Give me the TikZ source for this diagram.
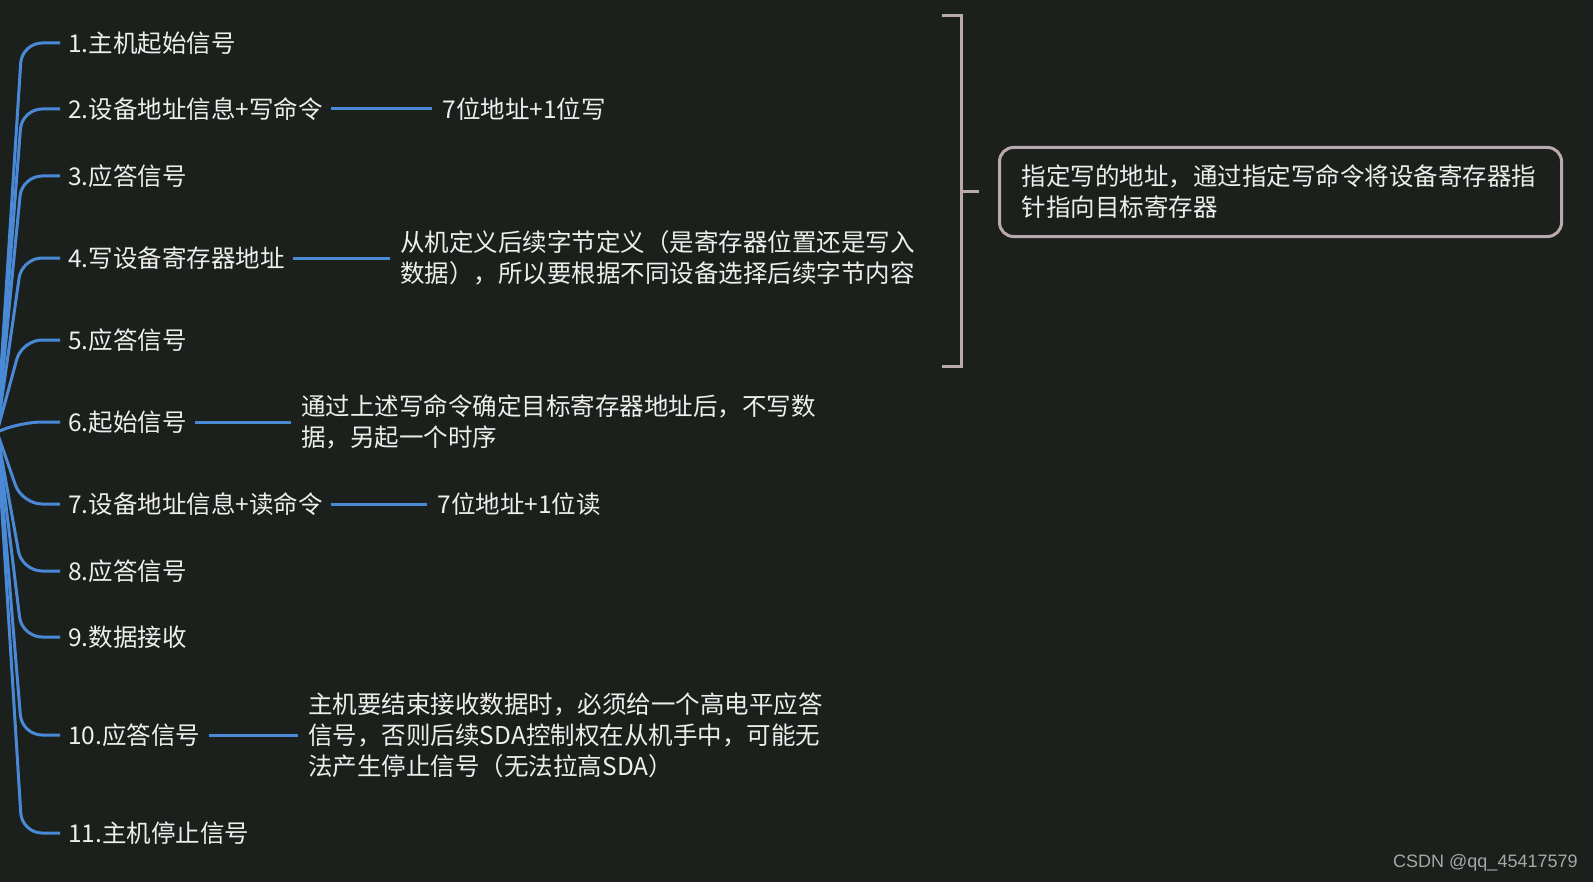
\documentclass[tikz,border=0pt]{standalone}
\usepackage{fontspec}
\setmainfont{Noto Sans CJK SC}
\newfontfamily\markfont{Liberation Sans}
\usepackage{tikz}
\usepackage{xcolor}
\usetikzlibrary{arrows.meta, calc, positioning}

\definecolor{bgcol}{RGB}{27,32,29}
\definecolor{branchcol}{RGB}{74,137,214}
\definecolor{framecol}{RGB}{185,170,173}
\definecolor{textcol}{RGB}{238,238,236}
\definecolor{markcol}{RGB}{166,168,166}

\tikzset{
  item/.style={anchor=west, inner xsep=4pt, inner ysep=0pt, text=textcol,
    font=\fontsize{12.25}{15.5}\selectfont},
  desc/.style={anchor=west, inner xsep=5pt, inner ysep=0pt, text=textcol, align=left,
    font=\fontsize{12.25}{15.5}\selectfont},
  branch/.style={draw=branchcol, line width=1.5pt, rounded corners=10pt},
  twig/.style={draw=branchcol, line width=1.5pt},
  bracket/.style={draw=framecol, line width=1.5pt},
  notebox/.style={draw=framecol, line width=1.5pt, rounded corners=7pt, fill=bgcol,
    text=textcol, align=left, text width=259pt, inner xsep=11pt, minimum height=44.5pt,
    font=\fontsize{12.25}{15.5}\selectfont}
}

\begin{document}
\begin{tikzpicture}[x=0.5pt, y=-0.5pt]
  \useasboundingbox[fill=bgcol] (0,0) rectangle (1593,882);
  \coordinate (root) at (-3,432);

  % main steps
  \foreach \n/\y/\t in {1/43/{1.主机起始信号}, 2/109/{2.设备地址信息+写命令}, 3/176/{3.应答信号},
      4/258/{4.写设备寄存器地址}, 5/340/{5.应答信号}, 6/422/{6.起始信号},
      7/504/{7.设备地址信息+读命令}, 8/571/{8.应答信号}, 9/637/{9.数据接收},
      10/735/{10.应答信号}, 11/833/{11.主机停止信号}}{
    \node[item] (item\n) at (60,\y) {\t};
    \draw[branch] (root) -- (22,\y) -- (item\n.west);
  }

  % details
  \node[desc] (desc2) at (432,109) {7位地址+1位写};
  \node[desc] (desc4) at (390,258) {从机定义后续字节定义（是寄存器位置还是写入\\数据），所以要根据不同设备选择后续字节内容};
  \node[desc] (desc6) at (291,422) {通过上述写命令确定目标寄存器地址后，不写数\\据，另起一个时序};
  \node[desc] (desc7) at (427,504) {7位地址+1位读};
  \node[desc] (desc10) at (298,735) {主机要结束接收数据时，必须给一个高电平应答\\信号，否则后续SDA控制权在从机手中，可能无\\法产生停止信号（无法拉高SDA）};
  \foreach \n in {2,4,6,7,10}
    \draw[twig] (item\n.east) -- (desc\n.west);

  % summary bracket
  \draw[bracket] (942,16) -- (961,16) -- (961,366) -- (942,366);
  \coordinate (brk) at (961,192);
  \node[notebox, anchor=west] (note) at (998,192) {指定写的地址，通过指定写命令将设备寄存器指\\针指向目标寄存器};
  \draw[bracket] (brk) -- ($(note.west)+(-19,0)$);

  \node[anchor=east, inner sep=0pt, text=markcol, font=\markfont\fontsize{9}{11}\selectfont]
    (mark) at (1578,863) {CSDN @qq\_45417579};
\end{tikzpicture}
\end{document}
